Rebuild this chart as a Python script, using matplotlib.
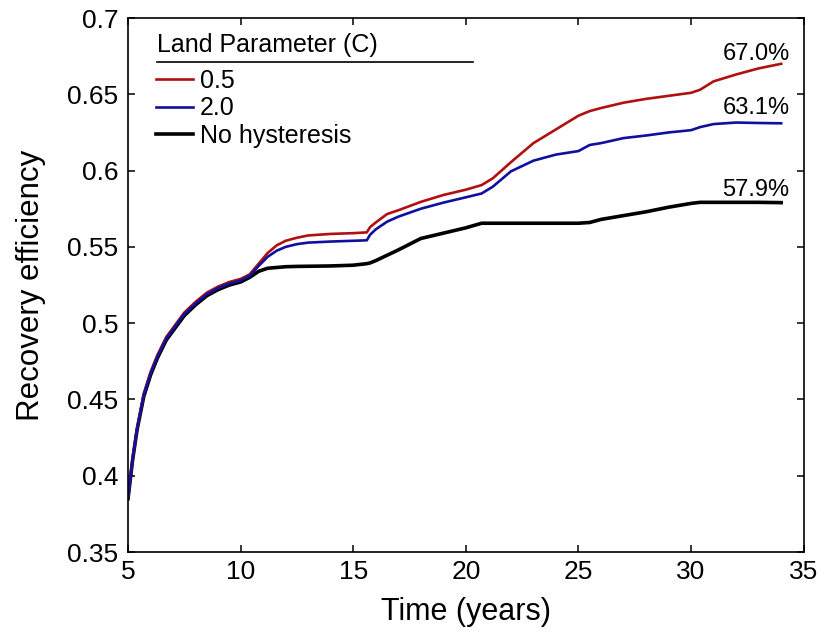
import matplotlib
matplotlib.use("Agg")
import matplotlib.pyplot as plt
from matplotlib.lines import Line2D

plt.rcParams["font.family"] = ["Liberation Sans", "DejaVu Sans"]

# Recovery efficiency against time for two land parameters and the
# no-hysteresis case.
time = [5.0, 5.2, 5.4, 5.7, 6.0, 6.3, 6.7, 7.0, 7.5, 8.0, 8.5, 9.0, 9.5,
        10.0, 10.4, 10.8, 11.2, 11.6, 12.0, 12.5, 13.0, 14.0, 15.0, 15.6,
        15.75, 16.0, 16.5, 17.0, 18.0, 19.0, 20.0, 20.7, 21.2, 22.0, 23.0,
        24.0, 25.0, 25.5, 26.0, 27.0, 28.0, 29.0, 30.0, 30.4, 31.0, 32.0,
        33.0, 34.0]

c_05 = [0.386, 0.411, 0.431, 0.454, 0.468, 0.479, 0.491, 0.497, 0.507,
        0.514, 0.520, 0.524, 0.527, 0.529, 0.532, 0.539, 0.546, 0.551,
        0.554, 0.556, 0.5575, 0.5585, 0.559, 0.5595, 0.5630, 0.566, 0.5715,
        0.574, 0.5795, 0.584, 0.5875, 0.5905, 0.595, 0.6055, 0.618, 0.627,
        0.636, 0.639, 0.641, 0.6445, 0.647, 0.649, 0.651, 0.653, 0.6585,
        0.663, 0.667, 0.670]

c_20 = [0.3855, 0.4105, 0.4305, 0.453, 0.467, 0.478, 0.490, 0.496, 0.506,
        0.513, 0.519, 0.523, 0.526, 0.528, 0.531, 0.5375, 0.5435, 0.5475,
        0.5500, 0.5518, 0.5528, 0.5535, 0.554, 0.5543, 0.5580, 0.5615,
        0.5665, 0.5698, 0.5750, 0.5790, 0.5825, 0.585, 0.5895, 0.5995,
        0.6065, 0.6105, 0.6128, 0.6168, 0.6180, 0.6213, 0.6230, 0.6250,
        0.6265, 0.6285, 0.6305, 0.6315, 0.6312, 0.631]

no_hyst = [0.385, 0.410, 0.430, 0.452, 0.466, 0.477, 0.489, 0.495, 0.505,
           0.512, 0.518, 0.522, 0.525, 0.527, 0.530, 0.534, 0.536, 0.5365,
           0.537, 0.5372, 0.5373, 0.5375, 0.538, 0.539, 0.5395, 0.541,
           0.5445, 0.548, 0.5555, 0.5590, 0.5625, 0.5655, 0.5655, 0.5655,
           0.5655, 0.5655, 0.5655, 0.566, 0.568, 0.5705, 0.573, 0.576,
           0.5785, 0.5792, 0.5792, 0.5792, 0.5792, 0.579]

labels = ["0.5", "2.0", "No hysteresis"]
colors = ["#b01010", "#10109e", "black"]
final_text = ["67.0%", "63.1%", "57.9%"]

fig = plt.figure(figsize=(8.26, 6.37), dpi=100)
ax = fig.add_axes([0.155, 0.1334, 0.818, 0.8383])

series = [c_05, c_20, no_hyst]
lines = [None] * 3
# black first so the coloured curves sit on top of it
for i in (2, 0, 1):
    lw = 2.6 if i == 2 else 1.9
    lines[i], = ax.plot(time, series[i], color=colors[i], lw=lw,
                        solid_joinstyle="round", label=labels[i])

# end values written above the curves
for vals, txt, dy in zip(series, final_text, (-1, 3, 1)):
    ax.annotate(txt, xy=(time[-1], vals[-1]), xytext=(6, dy),
                textcoords="offset points", ha="right", va="bottom",
                fontsize=17)

ax.set_xlim(5, 35)
ax.set_ylim(0.35, 0.7)
ax.set_xticks([5, 10, 15, 20, 25, 30, 35])
ax.set_yticks([0.35, 0.4, 0.45, 0.5, 0.55, 0.6, 0.65, 0.7])
ax.set_yticklabels(["0.35", "0.4", "0.45", "0.5", "0.55", "0.6", "0.65", "0.7"])
ax.tick_params(direction="in", length=5, width=1.1, top=True, right=True,
               labelsize=19)
ax.tick_params(axis="y", pad=7)
ax.tick_params(axis="x", pad=6)
for sp in ax.spines.values():
    sp.set_linewidth(1.2)

ax.set_xlabel("Time (years)", fontsize=22, labelpad=9)
ax.set_ylabel("Recovery efficiency", fontsize=22.5, labelpad=15)

# legend title and rule drawn by hand, entries from the legend
ax.text(0.043, 0.949, "Land Parameter (C)", transform=ax.transAxes,
        fontsize=18, ha="left", va="center")
ax.add_line(Line2D([0.043, 0.510], [0.918, 0.918], transform=ax.transAxes,
                   color="black", lw=1.2))
ax.legend(handles=lines, loc="upper left", bbox_to_anchor=(0.042, 0.905),
          frameon=False, fontsize=18, handlelength=1.45, handletextpad=0.3,
          labelspacing=0.14, borderpad=0.0, borderaxespad=0.0)

fig.savefig("out.png", dpi=100)
